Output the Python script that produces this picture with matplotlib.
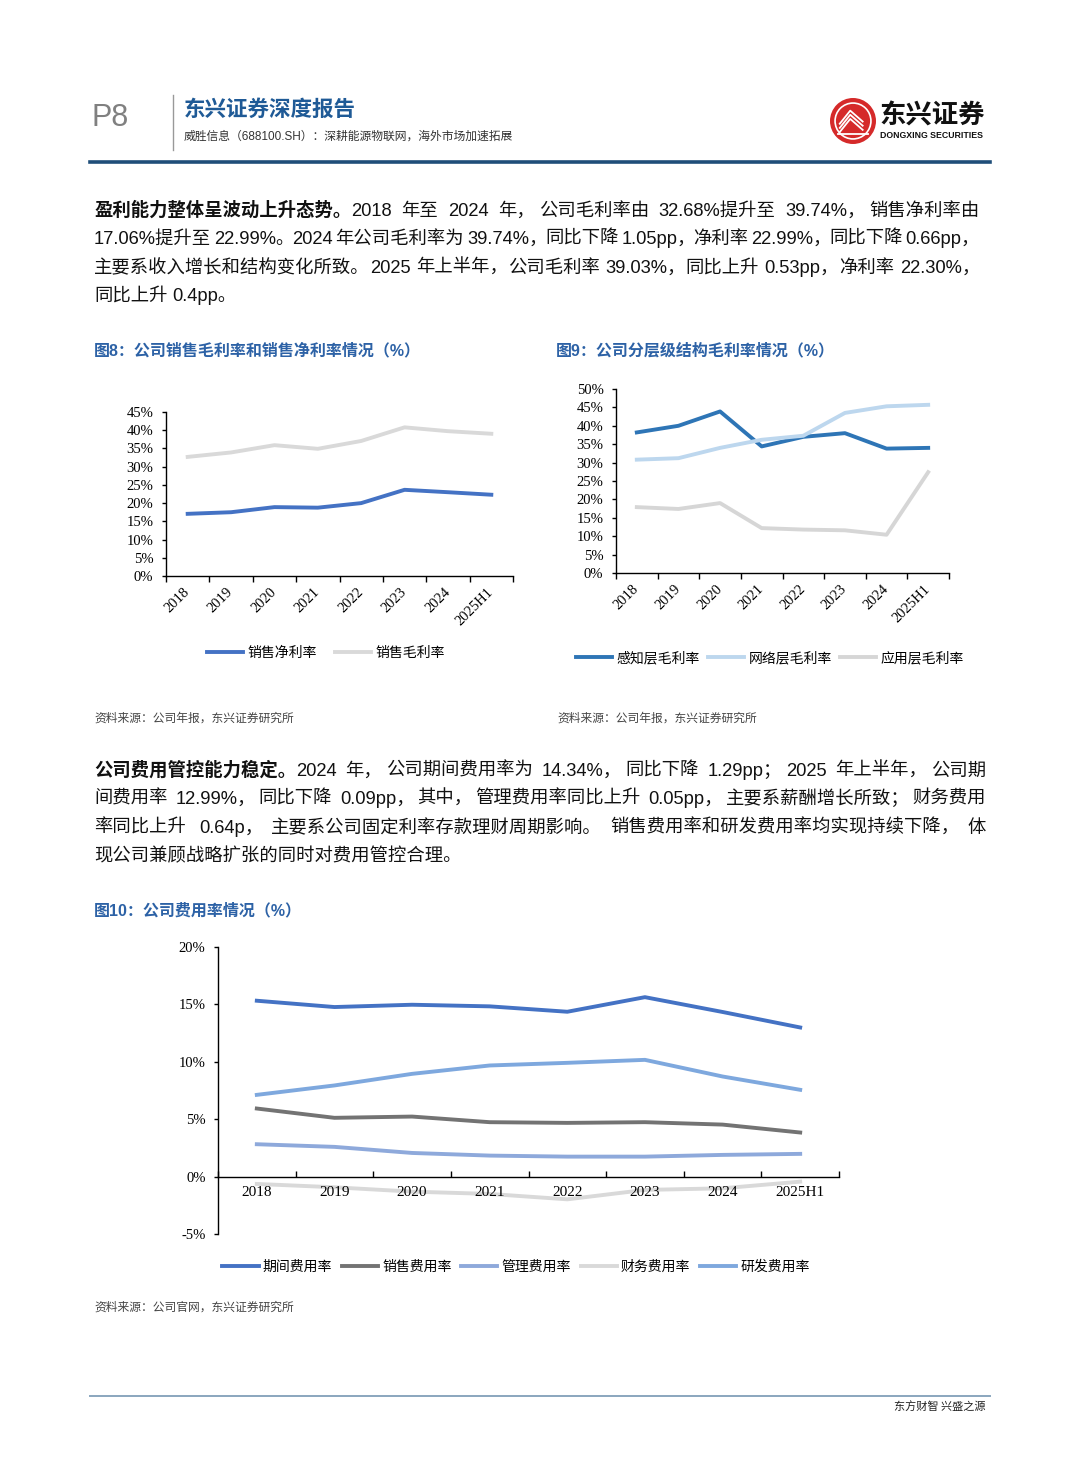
import numpy as np
import matplotlib
matplotlib.use('Agg')
import matplotlib.pyplot as plt
from matplotlib.font_manager import FontProperties
from matplotlib.patches import Circle
from matplotlib.ticker import FuncFormatter

# ---- data ----
years = ['2018', '2019', '2020', '2021', '2022', '2023', '2024', '2025H1']

# fig 8: margins (%)
net_margin = [17.06, 17.5, 18.9, 18.75, 20.0, 23.65, 22.99, 22.30]
gross_margin = [32.68, 33.9, 35.9, 34.9, 37.05, 40.79, 39.74, 39.03]

# fig 9: gross margin by layer (%)
sense_layer = [38.2, 40.0, 43.9, 34.4, 37.0, 38.0, 33.8, 34.0]
network_layer = [30.8, 31.2, 34.0, 36.2, 37.3, 43.5, 45.3, 45.7]
app_layer = [17.9, 17.4, 19.0, 12.2, 11.8, 11.6, 10.4, 27.4]

# fig 10: expense ratios (%)
period_exp = [15.32, 14.77, 14.97, 14.83, 14.36, 15.63, 14.34, 12.99]
sales_exp = [5.93, 5.12, 5.23, 4.74, 4.68, 4.74, 4.53, 3.84]
admin_exp = [2.82, 2.59, 2.06, 1.83, 1.74, 1.74, 1.89, 1.98]
fin_exp = [-0.64, -0.93, -1.31, -1.51, -1.98, -1.16, -1.02, -0.44]
rd_exp = [7.12, 7.94, 8.95, 9.68, 9.91, 10.17, 8.72, 7.56]

W, H = 1080, 1466
SANS = ['Liberation Sans', 'Noto Sans CJK SC', 'DejaVu Sans']
SERIF = ['Liberation Serif', 'Noto Sans CJK SC']
CJK = ['Noto Sans CJK SC', 'DejaVu Sans']
plt.rcParams['font.family'] = SANS

fig = plt.figure(figsize=(W / 100, H / 100), dpi=100)
renderer = fig.canvas.get_renderer()


def fx(x):
    return x / W


def fy(y):
    return 1 - y / H


def text_line(y, parts, x0=94, x1=980, size=13.2, justify=True):
    # split into words at spaces and after CJK punctuation so the line can be justified
    toks = []
    for s, bold in parts:
        cur, sep = '', None
        for ch in s:
            if ch == ' ':
                if cur:
                    toks.append((cur, bold, sep))
                    cur = ''
                sep = 'space'
                continue
            cur += ch
            if ch in '，。；：':
                toks.append((cur, bold, sep))
                cur = ''
                sep = 'punct'
        if cur:
            toks.append((cur, bold, sep))
    props = [FontProperties(family=SANS, size=size, weight='bold' if b else 'normal')
             for _, b, _ in toks]
    widths = [renderer.get_text_width_height_descent(t, p, False)[0]
              for (t, _, _), p in zip(toks, props)]
    space = 0.28 * size * 100 / 72
    nat = [space if sep == 'space' else 0 for _, _, sep in toks]
    stretch = [i for i, (_, _, sep) in enumerate(toks) if sep is not None and i > 0]
    extra = 0
    if justify and stretch:
        extra = (x1 - x0 - sum(widths) - sum(nat)) / len(stretch)
    x = x0
    for i, ((t, b, sep), p, w) in enumerate(zip(toks, props, widths)):
        x += nat[i] + (extra if i in stretch else 0)
        fig.text(fx(x), fy(y), t, fontproperties=p, va='baseline', ha='left', color='#111111')
        x += w


def make_axes(l, t, r, b):
    return fig.add_axes([fx(l), fy(b), (r - l) / W, (b - t) / H])


def style_axes(ax, ylim, ystep, rotate=True):
    xs = np.arange(len(years))
    for s in ['top', 'right']:
        ax.spines[s].set_visible(False)
    for s in ['left', 'bottom']:
        ax.spines[s].set_linewidth(1)
    if not rotate:
        # x axis crosses at zero (this resets the x ticks, so do it first)
        ax.spines['bottom'].set_position(('data', 0))
        ax.set_axisbelow(False)
    ax.set_xlim(-0.5, len(years) - 0.5)
    ax.set_ylim(*ylim)
    ax.set_yticks(np.arange(ylim[0], ylim[1] + 0.1, ystep))
    ax.yaxis.set_major_formatter(FuncFormatter(lambda v, p: '%d%%' % round(v)))
    ax.set_xticks(np.arange(-0.5, len(years), 1))
    ax.set_xticklabels([])
    ax.set_xticks(xs, minor=True)
    if rotate:
        ax.set_xticklabels(years, minor=True, rotation=45, ha='right',
                           rotation_mode='anchor', va='center',
                           fontfamily=SERIF, fontsize=10.5)
        ax.tick_params(axis='x', which='minor', length=0, pad=10)
        ax.tick_params(axis='x', which='major', length=4, direction='out', width=1)
    else:
        ax.set_xticklabels(years, minor=True, fontfamily=SERIF, fontsize=11)
        ax.tick_params(axis='x', which='minor', length=0, pad=7)
        ax.tick_params(axis='x', which='major', length=4, direction='in', width=1)
    ax.tick_params(axis='y', length=3, direction='out', width=1, pad=6)
    for lab in ax.get_yticklabels():
        lab.set_fontfamily(SERIF)
        lab.set_fontsize(10.5)
    ax.patch.set_alpha(0)


LW = 2.8
leg_font = FontProperties(family=CJK, size=10)

# ---- page header ----
fig.text(fx(92), fy(118), 'P8', fontsize=22, color='#808080', va='center',
         family=['Liberation Sans Narrow', 'Liberation Sans'])
fig.add_artist(plt.Line2D([fx(173), fx(173)], [fy(95), fy(150)], color='#999999', lw=1))
fig.text(fx(184), fy(110), '东兴证券深度报告', fontsize=15.5, weight='bold',
         color='#1F5A96', va='center')
fig.text(fx(184), fy(137), '威胜信息（688100.SH）：深耕能源物联网，海外市场加速拓展',
         fontsize=8.5, color='#333333', va='center')
fig.add_artist(plt.Line2D([fx(90), fx(990)], [fy(162), fy(162)], color='#1F4E79', lw=2.6))

# logo
axl = fig.add_axes([fx(830), fy(144), 46 / W, 46 / H])
axl.set_xlim(-1, 1)
axl.set_ylim(-1, 1)
axl.set_aspect('equal')
axl.axis('off')
axl.add_patch(Circle((0, 0), 1, fc='#D52A2A', ec='none'))
axl.add_patch(Circle((0, 0), 0.78, fc='none', ec='white', lw=1.2))
for k in range(3):
    axl.plot([-0.6, -0.12, 0.45], [-0.15 - k * 0.18, 0.45 - k * 0.18, -0.05 - k * 0.18],
             color='white', lw=1.3, solid_capstyle='butt')
axl.plot([-0.65, 0.65], [-0.55, -0.55], color='white', lw=1.3)
fig.text(fx(879), fy(116), '东兴证券', fontsize=19, weight='bold', color='#111111',
         va='center', family=CJK)
fig.text(fx(880), fy(135), 'DONGXING SECURITIES', fontsize=6.3, weight='bold',
         color='#111111', va='center')

# ---- paragraph 1 ----
text_line(216, [('盈利能力整体呈波动上升态势。', True),
                ('2018 年至 2024 年，公司毛利率由 32.68%提升至 39.74%，销售净利率由', False)])
text_line(244, [('17.06%提升至 22.99%。2024 年公司毛利率为 39.74%，同比下降 1.05pp，净利率 22.99%，同比下降 0.66pp，', False)])
text_line(273, [('主要系收入增长和结构变化所致。2025 年上半年，公司毛利率 39.03%，同比上升 0.53pp，净利率 22.30%，', False)])
text_line(301, [('同比上升 0.4pp。', False)], justify=False)

# ---- fig 8 ----
TITLE_C = '#2D62A6'
fig.text(fx(94), fy(351), '图8：公司销售毛利率和销售净利率情况（%）', fontsize=11.5,
         weight='bold', color=TITLE_C, va='center')
ax8 = make_axes(166, 412, 513, 576)
x = np.arange(len(years))
h1, = ax8.plot(x, net_margin, color='#4472C4', lw=LW, label='销售净利率')
h2, = ax8.plot(x, gross_margin, color='#D9D9D9', lw=LW, label='销售毛利率')
style_axes(ax8, (0, 45), 5)
fig.legend([h1, h2], ['销售净利率', '销售毛利率'], loc='center',
           bbox_to_anchor=(fx(326), fy(653)), ncol=2, frameon=False, prop=leg_font,
           handlelength=2.6, handletextpad=0.3, columnspacing=1.3)
fig.text(fx(94), fy(718), '资料来源：公司年报，东兴证券研究所', fontsize=8.5,
         color='#444444', va='center', style='italic', family=CJK)

# ---- fig 9 ----
fig.text(fx(556), fy(351), '图9：公司分层级结构毛利率情况（%）', fontsize=11.5,
         weight='bold', color=TITLE_C, va='center')
ax9 = make_axes(616, 389, 949, 573)
g1, = ax9.plot(x, sense_layer, color='#2E75B6', lw=LW)
g2, = ax9.plot(x, network_layer, color='#BDD7EE', lw=LW)
g3, = ax9.plot(x, app_layer, color='#D6D6D6', lw=LW)
style_axes(ax9, (0, 50), 5)
fig.legend([g1, g2, g3], ['感知层毛利率', '网络层毛利率', '应用层毛利率'], loc='center',
           bbox_to_anchor=(fx(770), fy(658)), ncol=3, frameon=False, prop=leg_font,
           handlelength=2.6, handletextpad=0.3, columnspacing=0.6)
fig.text(fx(557), fy(718), '资料来源：公司年报，东兴证券研究所', fontsize=8.5,
         color='#444444', va='center', style='italic', family=CJK)

# ---- paragraph 2 ----
text_line(776, [('公司费用管控能力稳定。', True),
                ('2024 年，公司期间费用率为 14.34%，同比下降 1.29pp；2025 年上半年，公司期', False)], x1=986)
text_line(804, [('间费用率 12.99%，同比下降 0.09pp，其中，管理费用率同比上升 0.05pp，主要系薪酬增长所致；财务费用', False)], x1=986)
text_line(833, [('率同比上升 0.64p，主要系公司固定利率存款理财周期影响。销售费用率和研发费用率均实现持续下降，体', False)], x1=986)
text_line(861, [('现公司兼顾战略扩张的同时对费用管控合理。', False)], justify=False)

# ---- fig 10 ----
fig.text(fx(94), fy(911), '图10：公司费用率情况（%）', fontsize=11.5,
         weight='bold', color=TITLE_C, va='center')
ax10 = make_axes(218, 947, 839, 1234)
e1, = ax10.plot(x, period_exp, color='#4472C4', lw=LW)
e2, = ax10.plot(x, sales_exp, color='#737373', lw=LW)
e3, = ax10.plot(x, admin_exp, color='#8EA9DB', lw=LW)
e4, = ax10.plot(x, fin_exp, color='#D9D9D9', lw=LW)
e5, = ax10.plot(x, rd_exp, color='#7EA8DE', lw=LW)
style_axes(ax10, (-5, 20), 5, rotate=False)
fig.legend([e1, e2, e3, e4, e5], ['期间费用率', '销售费用率', '管理费用率', '财务费用率', '研发费用率'],
           loc='center', bbox_to_anchor=(fx(516), fy(1267)), ncol=5, frameon=False,
           prop=leg_font, handlelength=2.6, handletextpad=0.3, columnspacing=0.7)
fig.text(fx(94), fy(1307), '资料来源：公司官网，东兴证券研究所', fontsize=8.5,
         color='#444444', va='center', style='italic', family=CJK)

# ---- footer ----
fig.add_artist(plt.Line2D([fx(90), fx(990)], [fy(1396), fy(1396)], color='#8AA6BE', lw=1.4))
fig.text(fx(985), fy(1406), '东方财智 兴盛之源', fontsize=8, color='#222222',
         ha='right', va='center', family=CJK)

fig.savefig('out.png', dpi=100)
